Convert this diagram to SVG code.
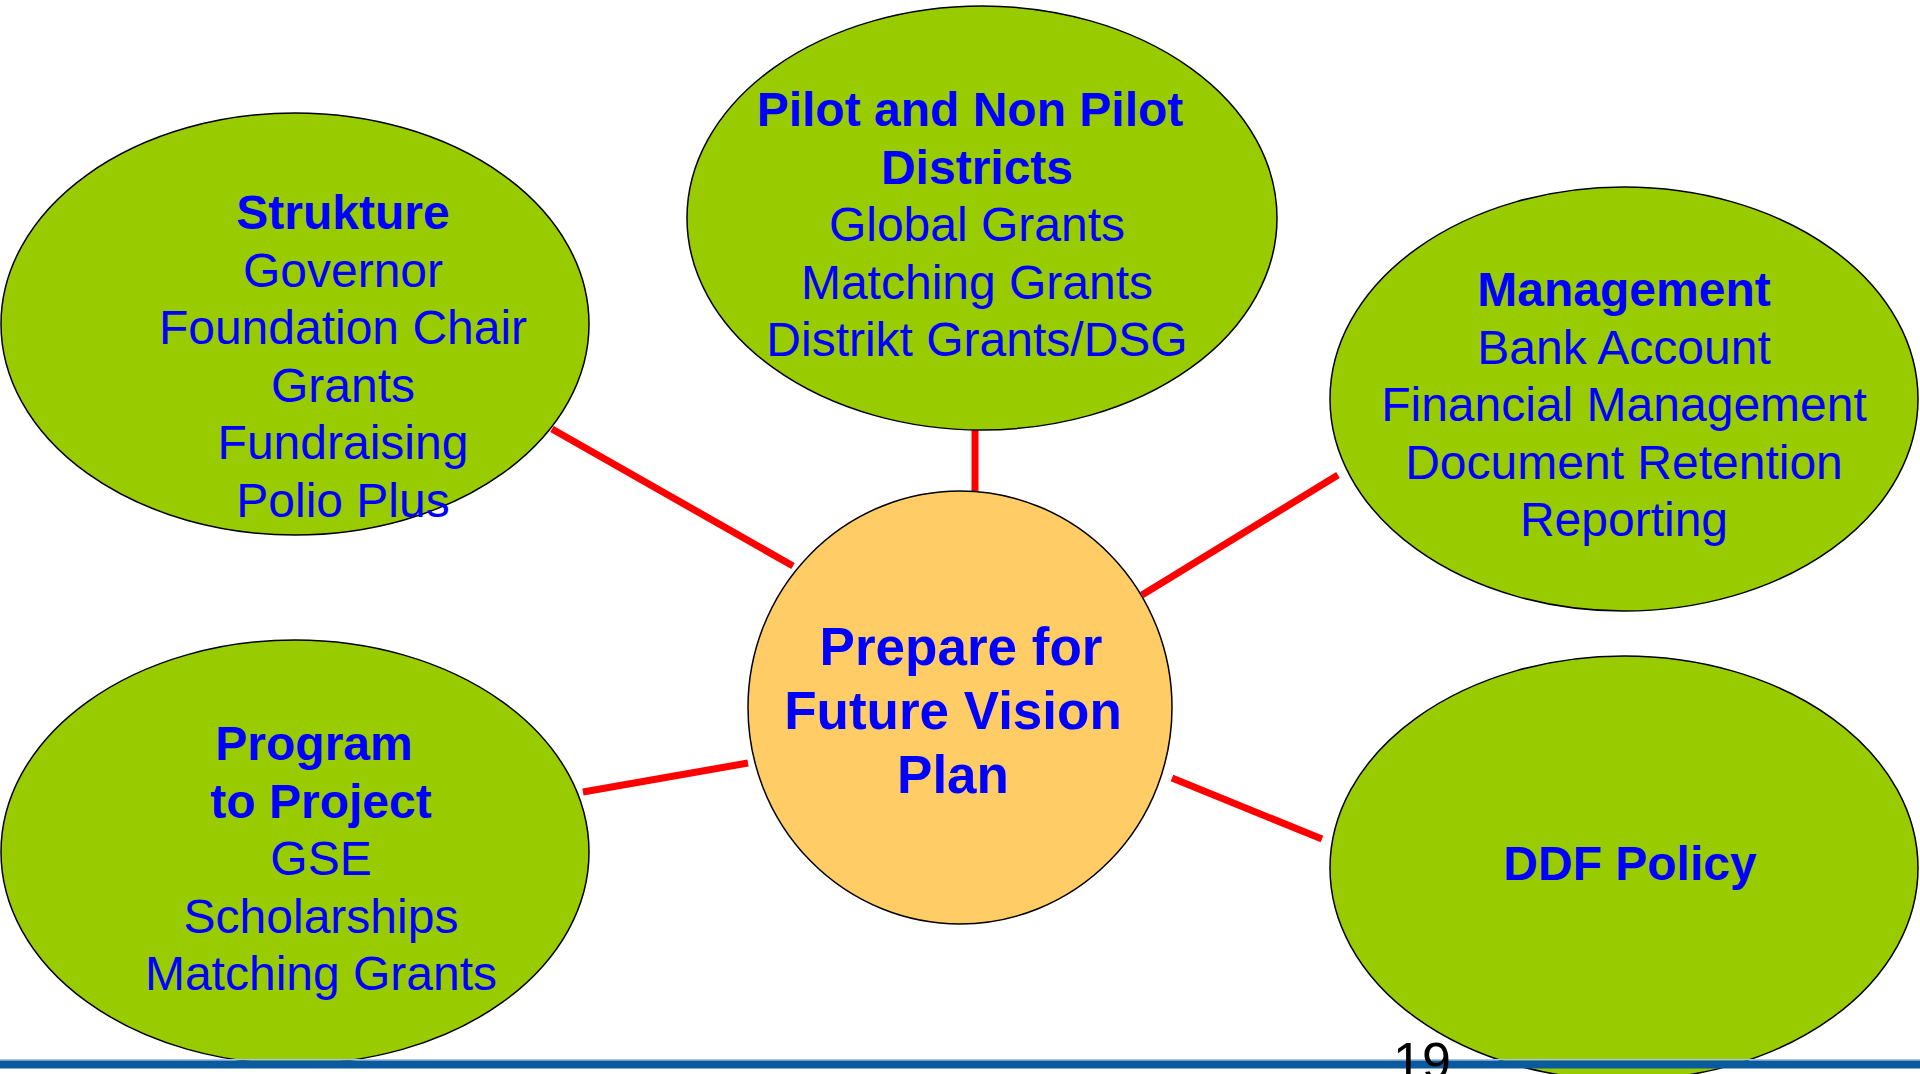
<svg xmlns="http://www.w3.org/2000/svg" width="1920" height="1074" viewBox="0 0 1920 1074">
<style>
.node{fill:#99CC00;stroke:#000;stroke-width:1.5}
.hub{fill:#FFCC66;stroke:#000;stroke-width:1.5}
.t{font-family:"Liberation Sans",Arial,sans-serif;font-size:48px;fill:#0000FF;text-anchor:middle}
.b{font-weight:bold}
.c{font-family:"Liberation Sans",Arial,sans-serif;font-size:53px;font-weight:bold;fill:#0000FF;text-anchor:middle}
.edge{stroke:#FF0000;stroke-width:7;fill:none}
</style>
<rect width="1920" height="1074" fill="#fff"/>
<g id="connectors">
<line class="edge" x1="552" y1="429" x2="793" y2="566"/>
<line class="edge" x1="975" y1="430" x2="975" y2="491"/>
<line class="edge" x1="1338" y1="475" x2="1142" y2="595"/>
<line class="edge" x1="583" y1="792" x2="748" y2="763"/>
<line class="edge" x1="1172" y1="778" x2="1322" y2="839"/>
</g>
<g id="strukture">
<ellipse class="node" cx="295" cy="324" rx="294" ry="211"/>
<text class="t b" x="343" y="229">Strukture</text>
<text class="t" x="343" y="286.5">Governor</text>
<text class="t" x="343" y="344">Foundation Chair</text>
<text class="t" x="343" y="401.5">Grants</text>
<text class="t" x="343" y="459">Fundraising</text>
<text class="t" x="343" y="516.5">Polio Plus</text>
</g>
<g id="pilot">
<ellipse class="node" cx="982" cy="218" rx="295" ry="212"/>
<text class="t b" x="970" y="126">Pilot and Non Pilot</text>
<text class="t b" x="977" y="183.5">Districts</text>
<text class="t" x="977" y="241">Global Grants</text>
<text class="t" x="977" y="298.5">Matching Grants</text>
<text class="t" x="977" y="356">Distrikt Grants/DSG</text>
</g>
<g id="management">
<ellipse class="node" cx="1624" cy="399" rx="294" ry="212"/>
<text class="t b" x="1624" y="306">Management</text>
<text class="t" x="1624" y="363.5">Bank Account</text>
<text class="t" x="1624" y="421">Financial Management</text>
<text class="t" x="1624" y="478.5">Document Retention</text>
<text class="t" x="1624" y="536">Reporting</text>
</g>
<g id="program">
<ellipse class="node" cx="295" cy="852" rx="294" ry="212"/>
<text class="t b" x="314" y="760">Program</text>
<text class="t b" x="321" y="817.5">to Project</text>
<text class="t" x="321" y="875">GSE</text>
<text class="t" x="321" y="932.5">Scholarships</text>
<text class="t" x="321" y="990">Matching Grants</text>
</g>
<g id="ddf">
<ellipse class="node" cx="1624" cy="868" rx="294" ry="212"/>
<text class="t b" x="1630" y="880">DDF Policy</text>
</g>
<g id="hub">
<ellipse class="hub" cx="960" cy="707.5" rx="212" ry="216.5"/>
<text class="c" x="961" y="665">Prepare for</text>
<text class="c" x="953" y="729">Future Vision</text>
<text class="c" x="953" y="793">Plan</text>
</g>
<g id="footer">
<rect x="0" y="1059" width="1920" height="1.5" fill="#A9C5E2"/>
<rect x="0" y="1060.5" width="1920" height="8" fill="#0B5AA0"/>
<text x="1422" y="1079" font-family="'Liberation Sans',Arial,sans-serif" font-size="52" fill="#000" text-anchor="middle">19</text>
</g>
</svg>
